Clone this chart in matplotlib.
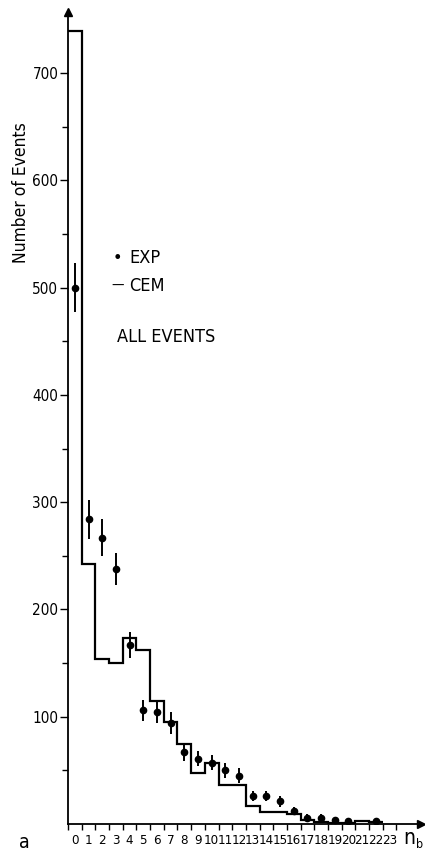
import numpy as np
import matplotlib
matplotlib.use("Agg")
import matplotlib.pyplot as plt
from matplotlib.ticker import FixedLocator

# Multiplicity distribution n_b (all events)
cem_values = [739, 242, 154, 150, 173, 162, 115, 95, 75, 48, 57, 36, 36,
              17, 11, 11, 9, 4, 2, 1, 1, 3, 2]
exp_bins = [0, 1, 2, 3, 4, 5, 6, 7, 8, 9, 10, 11, 12, 13, 14, 15, 16, 17,
            18, 19, 20, 22]
exp_values = [500, 284, 267, 238, 167, 106, 104, 94, 67, 61, 57, 50, 45,
              26, 26, 21, 12, 6, 6, 4, 3, 3]
exp_errors = [23, 18, 17, 15, 12, 10, 10, 10, 8, 7, 7, 7, 7, 5, 5, 5, 4,
              3, 3, 2, 2, 2]
x_tick_labels = [str(i) for i in range(24)]
y_major = [100, 200, 300, 400, 500, 600, 700]
y_minor = [50, 150, 250, 350, 450, 550, 650]

plt.rcParams["font.family"] = ["DejaVu Sans"]
plt.rcParams["font.stretch"] = "condensed"

fig = plt.figure(figsize=(4.25, 8.51), dpi=100)
ax = fig.add_axes([68 / 425, 27 / 851, 353 / 425, 812 / 851])

edges = np.arange(len(cem_values) + 1)
ax.stairs(cem_values, edges, color="black", linewidth=1.6, baseline=None)

centers = np.array(exp_bins) + 0.5
ax.errorbar(centers, exp_values, yerr=exp_errors, fmt="o", color="black",
            markersize=4.5, elinewidth=1.4, capsize=0)

ax.set_xlim(0, 25.8)
ax.set_ylim(0, 757)

for side in ("top", "right"):
    ax.spines[side].set_visible(False)
for side in ("left", "bottom"):
    ax.spines[side].set_linewidth(1.3)

# axis arrows
ax.plot(1, 0, marker=">", color="black", markersize=6,
        transform=ax.transAxes, clip_on=False)
ax.plot(0, 1, marker="^", color="black", markersize=6,
        transform=ax.transAxes, clip_on=False)

# x axis: ticks at bin edges, labels at bin centres
ax.xaxis.set_major_locator(FixedLocator(np.arange(0, 24) + 0.5))
ax.set_xticklabels(x_tick_labels, fontsize=9.5)
ax.xaxis.set_minor_locator(FixedLocator(np.arange(0, 25)))
ax.tick_params(axis="x", which="major", length=0, pad=7)
ax.tick_params(axis="x", which="minor", length=4, width=1, direction="out")

ax.yaxis.set_major_locator(FixedLocator(y_major))
ax.yaxis.set_minor_locator(FixedLocator(y_minor))
ax.set_yticklabels([str(v) for v in y_major], fontsize=11)
ax.tick_params(axis="y", which="major", length=6, width=1, pad=1,
               direction="out")
ax.tick_params(axis="y", which="minor", length=4, width=1, direction="out")

fig.text(21 / 425, 1 - 193 / 851, "Number of Events", rotation=90,
         ha="center", va="center", fontsize=12.5)

fig.text(403 / 425, 1 - 838 / 851, "n", ha="left", va="center",
         fontsize=15)
fig.text(416 / 425, 1 - 845 / 851, "b", ha="left", va="center",
         fontsize=9)
fig.text(24 / 425, 1 - 842 / 851, "a", ha="center", va="center",
         fontsize=14)

# legend block
fig.text(117 / 425, 1 - 258 / 851, "•", ha="center", va="center",
         fontsize=13)
fig.text(129 / 425, 1 - 258 / 851, "EXP", ha="left", va="center",
         fontsize=13)
fig.text(111 / 425, 1 - 286 / 851, "—", ha="left", va="center",
         fontsize=10)
fig.text(129 / 425, 1 - 286 / 851, "CEM", ha="left", va="center",
         fontsize=13)
fig.text(117 / 425, 1 - 337 / 851, "ALL EVENTS", ha="left", va="center",
         fontsize=13)

fig.savefig("out.png", dpi=100)
